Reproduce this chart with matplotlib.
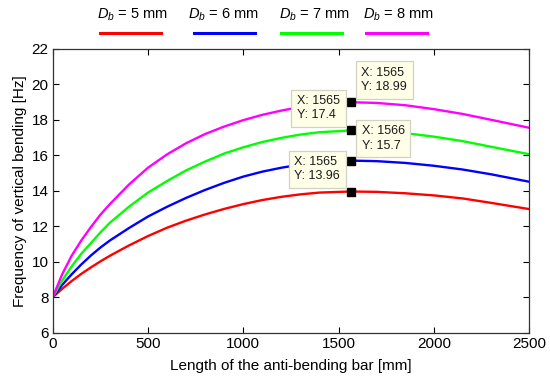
import numpy as np
import matplotlib
matplotlib.use("Agg")
import matplotlib.pyplot as plt
from matplotlib.lines import Line2D

plt.rcParams['font.family'] = ['Liberation Sans', 'DejaVu Sans']
plt.rcParams['mathtext.fontset'] = 'custom'
plt.rcParams['mathtext.rm'] = 'Liberation Sans'
plt.rcParams['mathtext.it'] = 'Liberation Sans:italic'

# bar length [mm]
length = [0, 50, 100, 150, 200, 250, 300, 400, 500, 600, 700, 800, 900, 1000,
          1100, 1200, 1300, 1400, 1565, 1700, 1850, 2000, 2150, 2300, 2500]
# frequency of vertical bending [Hz] per bar diameter
f_5mm = [8.0, 8.48, 8.92, 9.32, 9.68, 10.02, 10.34, 10.92, 11.45, 11.92, 12.32, 12.67, 12.98,
         13.25, 13.48, 13.66, 13.8, 13.9, 13.96, 13.94, 13.86, 13.74, 13.57, 13.32, 12.97]
f_6mm = [8.0, 8.7, 9.3, 9.85, 10.35, 10.8, 11.2, 11.9, 12.55, 13.1, 13.6, 14.05, 14.45,
         14.8, 15.08, 15.3, 15.48, 15.62, 15.7, 15.67, 15.57, 15.41, 15.2, 14.93, 14.51]
f_7mm = [8.0, 8.95, 9.75, 10.45, 11.05, 11.65, 12.2, 13.1, 13.9, 14.55, 15.15, 15.65, 16.1,
         16.45, 16.75, 16.98, 17.17, 17.3, 17.4, 17.37, 17.25, 17.05, 16.8, 16.48, 16.06]
f_8mm = [8.0, 9.3, 10.35, 11.2, 11.95, 12.65, 13.25, 14.35, 15.3, 16.05, 16.68, 17.2, 17.62,
         17.98, 18.28, 18.52, 18.72, 18.87, 18.99, 18.95, 18.82, 18.6, 18.33, 18.0, 17.55]

labels = ["$D_b$ = 5 mm", "$D_b$ = 6 mm", "$D_b$ = 7 mm", "$D_b$ = 8 mm"]
colors = ["#ff0000", "#0000ff", "#00ff00", "#ff00ff"]

# data tips (x, y) shown on the curves
tip_x = [1565, 1566, 1565, 1565]
tip_y = [13.96, 15.7, 17.4, 18.99]
tip_side = ['right', 'left', 'right', 'left']   # box anchor side

fig = plt.figure(figsize=(5.5, 3.8), dpi=100)
ax = fig.add_axes([0.0958, 0.1242, 0.8664, 0.7474])

series = [f_5mm, f_6mm, f_7mm, f_8mm]
for ys, c in zip(series, colors):
    ax.plot(length, ys, color=c, lw=1.7)

for xt, yt, side in zip(tip_x, tip_y, tip_side):
    ax.plot(xt, yt, 's', color='black', ms=5.5, zorder=5)
    dx = 7.5 if side == 'left' else -8
    ax.annotate(f"X: {xt}\nY: {yt:g}", (xt, yt), textcoords='offset points',
                xytext=(dx, 6.5), fontsize=9, color='#1a1a1a', linespacing=1.25,
                ha=side, va='bottom', multialignment='left', zorder=6,
                bbox=dict(boxstyle='square,pad=0.45', fc='#ffffe8', ec='#d2d2c4', lw=0.9))

ax.set_xlim(0, 2500)
ax.set_ylim(6, 22)
ax.set_xticks(np.arange(0, 2501, 500))
ax.set_yticks(np.arange(6, 23, 2))
ax.tick_params(direction='in', top=True, right=True, length=4, labelsize=11, pad=3)
for s in ax.spines.values():
    s.set_linewidth(0.9)
    s.set_color('#333333')
ax.set_xlabel("Length of the anti-bending bar [mm]", fontsize=11, labelpad=6)
ax.set_ylabel("Frequency of vertical bending [Hz]", fontsize=11, labelpad=3)

# legend: labels above line samples
label_cx = [132, 223, 314, 398]
line_cx = [130.5, 224.5, 311.5, 396.5]
for lab, c, tx, lx in zip(labels, colors, label_cx, line_cx):
    fig.text(tx / 550, 1 - 15 / 380, lab, ha='center', va='center', fontsize=10.5)
    fig.add_artist(Line2D([(lx - 30.5) / 550, (lx + 30.5) / 550],
                          [1 - 32.7 / 380, 1 - 32.7 / 380], color=c, lw=2.2))

fig.savefig("out.png", dpi=100)
